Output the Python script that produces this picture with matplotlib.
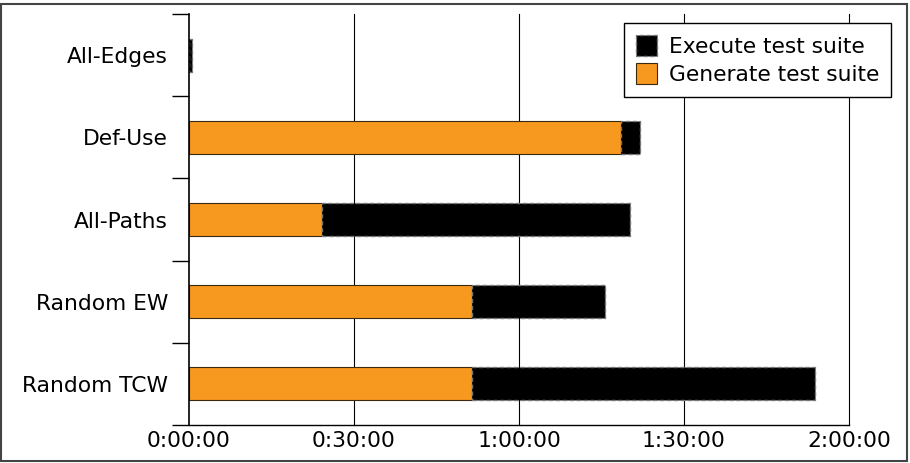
import matplotlib
matplotlib.use("Agg")
import matplotlib.pyplot as plt
from matplotlib.ticker import FuncFormatter, FixedLocator
from matplotlib.patches import Rectangle

categories = ["Random TCW", "Random EW", "All-Paths", "Def-Use", "All-Edges"]
generate_s = [3090, 3090, 1452, 4710, 5]
execute_s = [3738, 1446, 3360, 210, 25]
xticks_s = [0, 1800, 3600, 5400, 7200]

orange = "#f7981f"
fs = 15.7

fig = plt.figure(figsize=(9.10, 4.63), dpi=100)
ax = fig.add_axes([189/910, 38/463, 660/910, 411/463])

ypos = list(range(len(categories)))
ax.barh(ypos, generate_s, height=0.4, color=orange, edgecolor="#3a2a10",
        linewidth=0.8, label="Generate test suite", zorder=3)
ax.barh(ypos, execute_s, left=generate_s, height=0.4, color="black",
        edgecolor="#777777", linewidth=1.0, linestyle=(0, (3, 2)),
        label="Execute test suite", zorder=3)

ax.set_xlim(0, 7200)
ax.set_ylim(-0.5, len(categories) - 0.5)
ax.set_xticks(xticks_s)

def fmt(x, pos):
    x = int(round(x))
    return f"{x // 3600}:{(x % 3600) // 60:02d}:{x % 60:02d}"

ax.xaxis.set_major_formatter(FuncFormatter(fmt))
ax.set_yticks(ypos)
ax.set_yticklabels(categories)
ax.yaxis.set_minor_locator(FixedLocator([i - 0.5 for i in range(len(categories) + 1)]))
ax.tick_params(axis="y", which="major", length=0, labelsize=fs, pad=15)
ax.tick_params(axis="y", which="minor", length=12, width=1.0, direction="out", color="black")
ax.tick_params(axis="x", which="major", length=0, labelsize=fs, pad=4)

for xv in xticks_s[1:]:
    ax.axvline(xv, color="black", linewidth=0.8, zorder=1, clip_on=False)
for s in ["top", "right"]:
    ax.spines[s].set_visible(False)
ax.spines["left"].set_linewidth(1.2)
ax.spines["bottom"].set_linewidth(1.0)
ax.spines["left"].set_zorder(4)

handles, labels = ax.get_legend_handles_labels()
leg = ax.legend(handles[::-1], labels[::-1], loc="upper right",
                bbox_to_anchor=(1.0636, 0.978), borderaxespad=0,
                fontsize=fs, fancybox=False, framealpha=1,
                edgecolor="black", handlelength=0.95, handleheight=1.1,
                handletextpad=0.55, borderpad=0.55, labelspacing=0.3)
leg.get_frame().set_linewidth(1.0)

fig.patches.append(Rectangle((1/910, 2/463), 906/910, 457/463, transform=fig.transFigure,
                             fill=False, edgecolor="#444444", linewidth=1.5))

fig.savefig("out.png", dpi=100)
